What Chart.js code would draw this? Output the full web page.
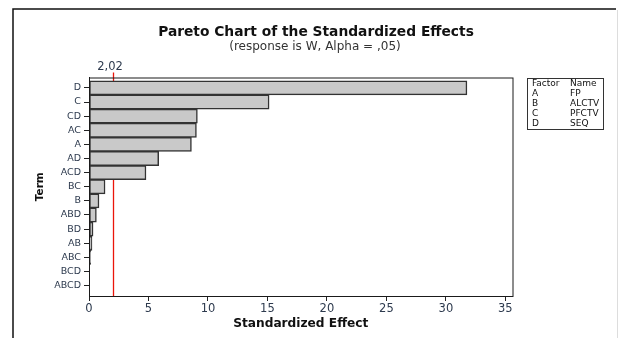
<!DOCTYPE html>
<html>
<head>
<meta charset="utf-8">
<script src="https://cdn.jsdelivr.net/npm/chart.js@4/dist/chart.umd.min.js"></script>
<style>
  html, body { margin: 0; padding: 0; background: #fff; }
  #wrap { width: 618px; height: 338px; }
</style>
</head>
<body>
<div id="wrap"><canvas id="chart" width="618" height="338"></canvas></div>
<script>
// effects, sorted largest first
const terms = ['D', 'C', 'CD', 'AC', 'A', 'AD', 'ACD', 'BC', 'B', 'ABD', 'BD', 'AB', 'ABC', 'BCD', 'ABCD'];
const effects = [31.77, 15.14, 9.11, 9.03, 8.61, 5.86, 4.79, 1.35, 0.84, 0.62, 0.34, 0.25, 0.14, 0.06, 0.03];
const xTicks = [0, 5, 10, 15, 20, 25, 30, 35];
const refValue = 2.02;
const refLabel = '2,02';
const legendFactors = ['A', 'B', 'C', 'D'];
const legendNames = ['FP', 'ALCTV', 'PFCTV', 'SEQ'];

const FONT = '"DejaVu Sans", Verdana, sans-serif';
const tickColor = '#2d3a4e';

const framePlugin = {
    id: 'frame',
    beforeDatasetsDraw(chart) {
        const { ctx, chartArea } = chart;
        const x = chart.scales.x.getPixelForValue(refValue);
        ctx.save();
        ctx.strokeStyle = 'rgb(235, 20, 10)';
        ctx.lineWidth = 1.3;
        ctx.beginPath();
        ctx.moveTo(Math.round(x) + 0.5, chartArea.top - 5);
        ctx.lineTo(Math.round(x) + 0.5, chartArea.bottom);
        ctx.stroke();
        ctx.fillStyle = tickColor;
        ctx.font = '11.5px ' + FONT;
        ctx.textAlign = 'center';
        ctx.textBaseline = 'middle';
        ctx.fillText(refLabel, x - 3, chartArea.top - 10);
        ctx.restore();
    },
    afterDatasetsDraw(chart) {
        const { ctx, chartArea } = chart;
        ctx.save();
        ctx.strokeStyle = '#1a1a1a';
        ctx.lineWidth = 1;
        ctx.strokeRect(chartArea.left + 0.5, chartArea.top + 0.5,
            chartArea.right - chartArea.left, chartArea.bottom - chartArea.top);
        ctx.restore();
    },
    afterDraw(chart) {
        const { ctx } = chart;
        ctx.save();
        // outer border of the graph window
        ctx.strokeStyle = '#111';
        ctx.lineWidth = 1.5;
        ctx.beginPath();
        ctx.moveTo(13, 338);
        ctx.lineTo(13, 9);
        ctx.lineTo(616, 9);
        ctx.stroke();
        ctx.strokeStyle = '#ddd';
        ctx.lineWidth = 1;
        ctx.beginPath();
        ctx.moveTo(617.5, 10);
        ctx.lineTo(617.5, 338);
        ctx.stroke();

        // titles
        ctx.fillStyle = '#111';
        ctx.textAlign = 'center';
        ctx.textBaseline = 'middle';
        ctx.font = 'bold 13.8px ' + FONT;
        ctx.fillText('Pareto Chart of the Standardized Effects', 316, 32);
        ctx.fillStyle = '#333';
        ctx.font = '12px ' + FONT;
        ctx.fillText('(response is W, Alpha = ,05)', 315, 47);

        // factor table
        ctx.strokeStyle = '#333';
        ctx.lineWidth = 1;
        ctx.strokeRect(527.5, 78.5, 76, 51);
        ctx.fillStyle = '#111';
        ctx.textAlign = 'left';
        ctx.font = '9px ' + FONT;
        ctx.fillText('Factor', 532, 84);
        ctx.fillText('Name', 570, 84);
        legendFactors.forEach((f, i) => {
            ctx.fillText(f, 532, 94 + i * 10);
            ctx.fillText(legendNames[i], 570, 94 + i * 10);
        });
        ctx.restore();
    }
};

new Chart(document.getElementById('chart'), {
    type: 'bar',
    data: {
        datasets: [{
            data: effects.map((v, i) => ({ x: v, y: i })),
            backgroundColor: '#c9c9c9',
            borderColor: '#333',
            borderWidth: 1.5,
            borderSkipped: false,
            barPercentage: 1,
            categoryPercentage: 1
        }]
    },
    options: {
        indexAxis: 'y',
        responsive: false,
        animation: false,
        layout: { padding: { top: 77.5, left: 34, right: 105.5, bottom: 6 } },
        plugins: { legend: { display: false }, tooltip: { enabled: false } },
        scales: {
            x: {
                type: 'linear',
                min: 0,
                max: 35.6,
                afterBuildTicks: (scale) => { scale.ticks = xTicks.map(v => ({ value: v })); },
                afterFit: (scale) => { scale.height = 338 - 296 - 6; },
                ticks: { color: tickColor, font: { family: FONT, size: 11.5 }, padding: 1, maxRotation: 0 },
                grid: { display: true, drawOnChartArea: false, tickLength: 5, color: '#222' },
                border: { display: true, color: '#1a1a1a' },
                title: {
                    display: true, text: 'Standardized Effect', color: '#111',
                    font: { family: FONT, size: 12.2, weight: 'bold' }, padding: { top: 0, bottom: 1 }
                }
            },
            y: {
                type: 'linear',
                offset: false,
                reverse: true,
                min: -0.735,
                max: terms.length - 1 + 0.735,
                afterBuildTicks: (scale) => { scale.ticks = terms.map((t, i) => ({ value: i })); },
                afterFit: (scale) => { scale.width = 89 - 34; },
                ticks: {
                    color: tickColor, font: { family: FONT, size: 9.5 }, padding: 3,
                    callback: (v) => terms[v]
                },
                grid: { display: true, drawOnChartArea: false, tickLength: 5, color: '#222', offset: false },
                border: { display: true, color: '#1a1a1a' },
                title: {
                    display: true, text: 'Term', color: '#111',
                    font: { family: FONT, size: 10.5, weight: 'bold' }, padding: { top: 0, bottom: 0 }
                }
            }
        }
    },
    plugins: [framePlugin]
});
</script>
</body>
</html>
